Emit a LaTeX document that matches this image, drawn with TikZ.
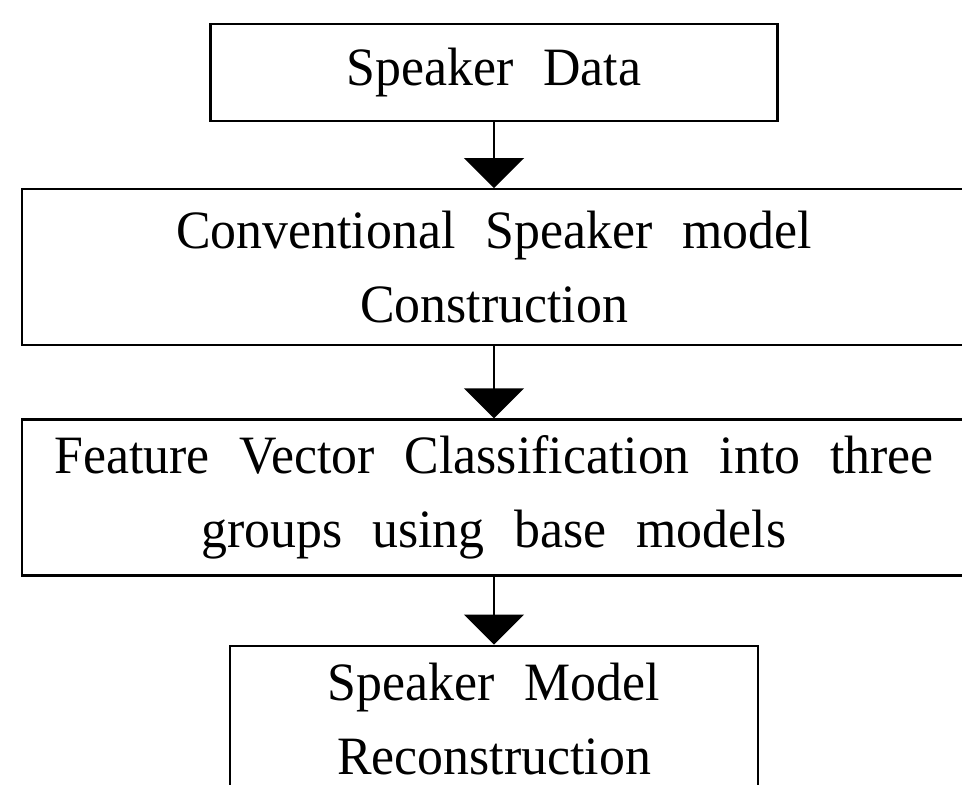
\documentclass[tikz,border=0pt]{standalone}
\usepackage{fontspec}
\setmainfont{Liberation Serif}[FakeStretch=0.96,WordSpace=2.3]
\usetikzlibrary{arrows.meta,positioning}

\begin{document}
\begin{tikzpicture}[x=1pt,y=1pt,
      font=\fontsize{54}{74}\selectfont,node distance=66pt,
      box/.style={draw,line width=2.2pt,align=center,inner sep=0pt,
                  minimum width=944pt,minimum height=156pt},
      arr/.style={-{Triangle[width=60pt,length=30pt]},line width=1.5pt}]
    \useasboundingbox (0,0) rectangle (962,-785);
    \node[box,minimum width=567pt,minimum height=97pt] (data) at (494,-72.5) {Speaker Data};
    \node[box,below=66pt of data] (conv) {Conventional Speaker model\\Construction};
    \node[box,below=72pt of conv] (classify) {Feature Vector Classification into three\\groups using base models};
    \node[box,minimum width=528pt,minimum height=146pt,below=68pt of classify] (recon) {Speaker Model\\Reconstruction};
    \draw[arr] (data)--(conv);
    \draw[arr] (conv)--(classify);
    \draw[arr] (classify)--(recon);
  \end{tikzpicture}
\end{document}
